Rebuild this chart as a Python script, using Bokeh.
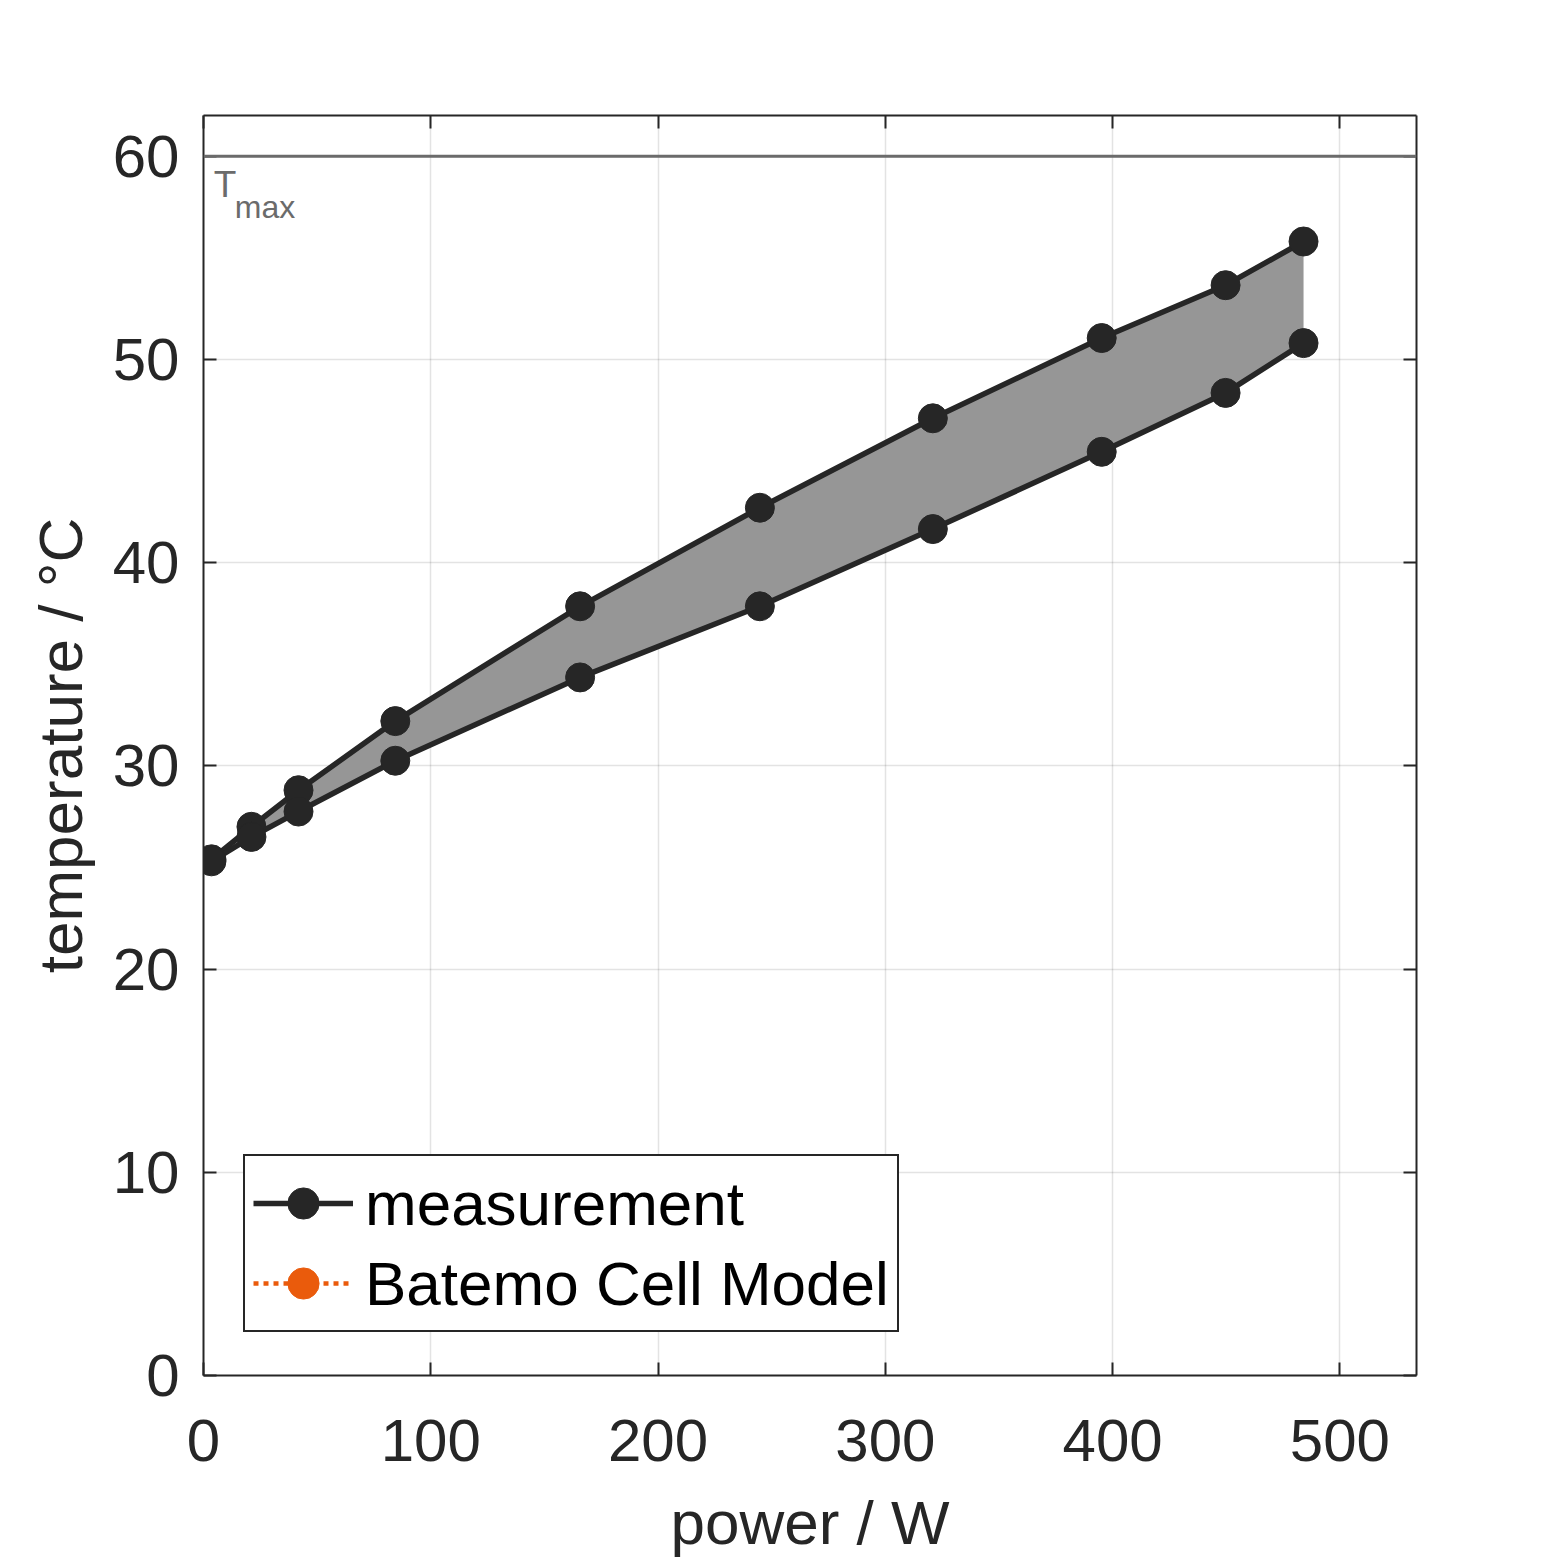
from bokeh.plotting import figure
from bokeh.models import (Range1d, LinearAxis, Span, Label, Legend, LegendItem,
                          FixedTicker, ColumnDataSource)
from bokeh.embed import file_html
from bokeh.resources import INLINE

power = [3.5, 21.1, 41.8, 84.4, 165.7, 244.8, 320.9, 395.2, 449.7, 484.0]
temp_upper = [25.4, 27.0, 28.8, 32.2, 37.85, 42.7, 47.1, 51.05, 53.65, 55.8]
temp_lower = [25.3, 26.5, 27.75, 30.25, 34.35, 37.85, 41.65, 45.45, 48.35, 50.8]
# model series appears only in the legend (no visible data in the chart)
model_power = [float("nan")]
model_temp = [float("nan")]
t_max = 60
x_ticks = [0, 100, 200, 300, 400, 500]
y_ticks = [0, 10, 20, 30, 40, 50, 60]

FONT = "Liberation Sans"
DARK = "#262626"

W, H = 1547, 1559
p = figure(width=W, height=H, output_backend="svg", toolbar_location=None,
           x_range=Range1d(0, 533.7), y_range=Range1d(0, 62),
           min_border_left=203, min_border_right=131,
           min_border_top=115, min_border_bottom=172)
p.outline_line_color = None
p.background_fill_color = "white"
p.border_fill_color = "white"

# grids
for g in (p.xgrid, p.ygrid):
    g.grid_line_color = DARK
    g.grid_line_alpha = 0.13
    g.grid_line_width = 1.5
p.xgrid.ticker = FixedTicker(ticks=x_ticks)
p.ygrid.ticker = FixedTicker(ticks=y_ticks)

def style_axis(ax, ticks, labels=True):
    ax.ticker = FixedTicker(ticks=ticks)
    ax.axis_line_color = DARK
    ax.axis_line_width = 2
    ax.major_tick_line_color = DARK
    ax.major_tick_line_width = 2
    ax.major_tick_in = 13
    ax.major_tick_out = 0
    ax.minor_tick_line_color = None
    ax.major_label_text_font = FONT
    ax.major_label_text_font_size = "60px"
    ax.major_label_text_color = DARK
    ax.axis_label_text_font = FONT
    ax.axis_label_text_font_size = "62px"
    ax.axis_label_text_color = DARK
    ax.axis_label_text_font_style = "normal"
    if not labels:
        ax.major_label_text_font_size = "0px"
        ax.major_label_text_color = None

style_axis(p.xaxis[0], x_ticks)
style_axis(p.yaxis[0], y_ticks)
p.xaxis[0].axis_label = "power / W"
p.yaxis[0].axis_label = "temperature / °C"
p.xaxis[0].major_label_standoff = 44
p.xaxis[0].axis_label_standoff = 24
p.yaxis[0].major_label_standoff = 24
p.yaxis[0].axis_label_standoff = 15

top_ax = LinearAxis()
style_axis(top_ax, x_ticks, labels=False)
p.add_layout(top_ax, "above")
right_ax = LinearAxis()
style_axis(right_ax, y_ticks, labels=False)
p.add_layout(right_ax, "right")

# shaded area between curves
p.varea(x=power, y1=temp_lower, y2=temp_upper, fill_color="#969696", fill_alpha=1.0)

# Tmax line
GRAY = "#6b6b6b"
p.add_layout(Span(location=t_max, dimension="width", line_color=GRAY, line_width=3))
p.add_layout(Label(x=4.5, y=t_max, x_units="data", y_units="data", text="T",
                   text_font=FONT, text_font_size="37px", text_color=GRAY,
                   text_baseline="top", y_offset=-8))
p.add_layout(Label(x=4.5, y=t_max, x_units="data", y_units="data", text="max",
                   text_font=FONT, text_font_size="32px", text_color=GRAY,
                   text_baseline="top", x_offset=21, y_offset=-33))

# measurement lines and markers
src_u = ColumnDataSource(dict(x=power, y=temp_upper))
src_l = ColumnDataSource(dict(x=power, y=temp_lower))
l1 = p.line("x", "y", source=src_u, line_color=DARK, line_width=5.5)
p.line("x", "y", source=src_l, line_color=DARK, line_width=5.5)
s1 = p.scatter("x", "y", source=src_u, size=29, fill_color=DARK, line_color=DARK)
p.scatter("x", "y", source=src_l, size=29, fill_color=DARK, line_color=DARK)

# model series (legend only)
ORANGE = "#EA5B0C"
src_m = ColumnDataSource(dict(x=model_power, y=model_temp))
l2 = p.line("x", "y", source=src_m, line_color=ORANGE, line_width=4.5, line_dash="5 5")
s2 = p.scatter("x", "y", source=src_m, size=19, fill_color=ORANGE, line_color=ORANGE)

legend = Legend(items=[LegendItem(label="measurement", renderers=[l1, s1]),
                       LegendItem(label="Batemo Cell Model", renderers=[l2, s2])],
                location=(40, 43))
legend.label_text_font = FONT
legend.label_text_font_size = "62px"
legend.label_text_color = "black"
legend.glyph_width = 100
legend.glyph_height = 78
legend.label_height = 78
legend.label_standoff = 12
legend.spacing = 2
legend.padding = 8
legend.margin = 0
legend.border_line_color = DARK
legend.border_line_alpha = 1.0
legend.border_line_width = 2
legend.background_fill_color = "white"
legend.background_fill_alpha = 1.0
p.add_layout(legend, "center")

open("out.html", "w").write(file_html(p, INLINE))
